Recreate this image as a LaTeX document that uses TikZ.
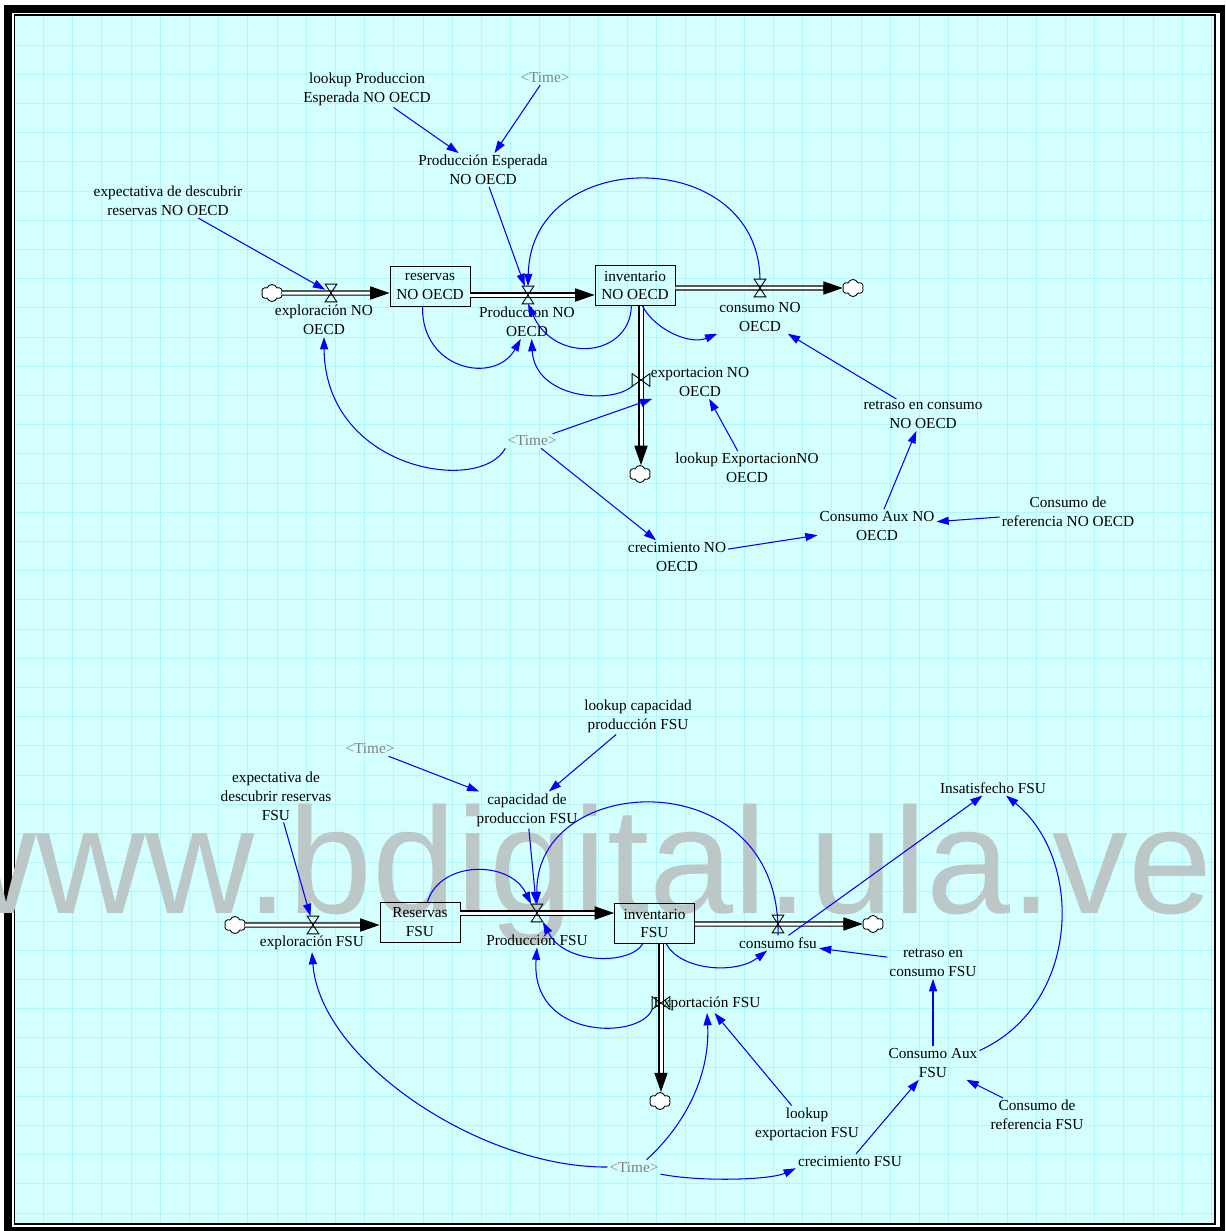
\documentclass[tikz,border=0pt]{standalone}
\usepackage{fontspec}
\setmainfont{Liberation Serif}
\newfontfamily\wmfont{Liberation Sans}
\usetikzlibrary{arrows.meta,shapes.symbols}
\definecolor{bgcyan}{RGB}{212,255,255}
\definecolor{gridcyan}{RGB}{176,246,250}
\definecolor{timegray}{RGB}{128,128,128}
\definecolor{wmgray}{RGB}{188,199,199}

\begin{document}
\begin{tikzpicture}[x=0.02cm, y=-0.02cm,
  every node/.style={font=\fontsize{8.7}{10.8}\selectfont},
  var/.style={align=center, inner sep=1pt},
  tvar/.style={var, text=timegray},
  stock/.style={draw, line width=0.5pt, align=center, inner sep=1pt, minimum width=1.6cm, minimum height=0.8cm},
  valve/.style={inner sep=0pt, minimum width=0.22cm, minimum height=0.34cm},
  valvev/.style={inner sep=0pt, minimum width=0.34cm, minimum height=0.24cm},
  sink/.style={cloud, cloud puffs=6, cloud puff arc=140, aspect=1.2, draw, fill=white, line width=0.5pt, inner sep=0pt, minimum width=0.42cm, minimum height=0.34cm},
  pipe/.style={draw=black, line width=0.6pt, double=white, double distance=1.7pt, shorten >=9pt},
  pipetip/.style={-{Triangle[length=11pt,width=7.5pt]}, line width=0.6pt},
  link/.style={blue, line width=0.6pt, -{Triangle[length=7pt,width=4.6pt]}}]

% sheet
\useasboundingbox (0,0) rectangle (1225,1231);
\fill[white] (0,0) rectangle (1225,1231);
\fill[black] (4,5) rectangle (1225,1231);
\fill[white] (12,13) rectangle (1219.5,1226.5);
\fill[bgcyan] (14.5,15) rectangle (1215,1224);
\foreach \i in {0,...,40} {
  \draw[gridcyan, line width=0.5pt] ({43.5+29.2*\i},16) -- ({43.5+29.2*\i},1223);
  \draw[gridcyan, line width=0.5pt] (16,{45+29.2*\i}) -- (1214,{45+29.2*\i});
}
\draw[line width=1.1pt] (14.5,15) rectangle (1215,1224);
\node[anchor=base west, inner sep=0pt, text=wmgray, font=\wmfont\fontsize{86}{86}\selectfont] (wmark) at (-73,913) {www.bdigital.ula.ve};

% NO OECD
\node[var] (expectNO) at (168,201) {expectativa de descubrir\\reservas NO OECD};
\node[var] (lkProdNO) at (367,89) {lookup Produccion\\Esperada NO OECD};
\node[tvar] (timeB) at (545,78) {<Time>};
\node[var] (espNO) at (483,170) {Producción Esperada\\NO OECD};
\node[sink] (cloudA) at (272,293) {};
\node[valve] (vExpNO) at (331,293) {};
\node[var] (expNO) at (324,320) {exploración NO\\OECD};
\node[stock] (resNO) at (430,286) {reservas\\NO OECD};
\node[valve] (vProdNO) at (528,295) {};
\node[var] (prodNO) at (527,322) {Produccion NO\\OECD};
\node[stock] (invNO) at (635,285.5) {inventario\\NO OECD};
\node[valve] (vConsNO) at (760,288) {};
\node[var] (consNO) at (760,317) {consumo NO\\OECD};
\node[sink] (cloudB) at (853,288) {};
\node[valvev] (vExpoNO) at (641,380) {};
\node[var] (expoNO) at (700,382) {exportacion NO\\OECD};
\node[sink] (cloudC) at (640,474) {};
\node[var] (lkExpoNO) at (747,468) {lookup ExportacionNO\\OECD};
\node[tvar] (timeA) at (532,441) {<Time>};
\node[var] (creNO) at (677,557) {crecimiento NO\\OECD};
\node[var] (auxNO) at (877,526) {Consumo Aux NO\\OECD};
\node[var] (refNO) at (1068,512) {Consumo de\\referencia NO OECD};
\node[var] (retNO) at (923,415) {retraso en consumo\\NO OECD};

\coordinate (tA) at (resNO.west |- cloudA);
\coordinate (tB) at (invNO.west |- vProdNO);
\coordinate (tC) at (cloudB.west);
\coordinate (tD) at (vExpoNO |- cloudC.north);
\draw[pipe] (cloudA.east) -- (tA);
\draw[pipetip] ([xshift=-11pt]tA) -- (tA);
\draw[pipe] (resNO.east |- vProdNO) -- (tB);
\draw[pipetip] ([xshift=-11pt]tB) -- (tB);
\draw[pipe] (invNO.east |- vConsNO) -- (tC);
\draw[pipetip] ([xshift=-11pt]tC) -- (tC);
\draw[pipe] (vExpoNO |- invNO.south) -- (tD);
\draw[pipetip] ([yshift=11pt]tD) -- (tD);

\draw[link] (expectNO) -- (vExpNO);
\draw[link] (lkProdNO) -- (espNO);
\draw[link] (timeB) -- (espNO);
\draw[link] (espNO) -- (vProdNO);
\draw[link] (timeA) -- (expoNO);
\draw[link] (timeA) -- (creNO);
\draw[link] (creNO) -- (auxNO);
\draw[link] (refNO) -- (auxNO);
\draw[link] (auxNO) -- (retNO);
\draw[link] (retNO) -- (consNO);
\draw[link] (lkExpoNO) -- (expoNO);
\draw[link] (vConsNO.north) .. controls (758,145) and (531,145) .. (vProdNO.north);
\draw[link] (resNO.250) .. controls (421,370) and (495,385) .. (prodNO.250);
\draw[link] (invNO.260) .. controls (630,357) and (555,365) .. (vProdNO.south);
\draw[link] (vExpoNO.south west) .. controls (610,405) and (535,398) .. (prodNO.285);
\draw[link] (timeA.south west) .. controls (480,495) and (325,470) .. (expNO.south);
\draw[link] (invNO.290) .. controls (655,330) and (690,345) .. (consNO.south west);

% FSU
\node[var] (lkCapF) at (638,716) {lookup capacidad\\producción FSU};
\node[tvar] (timeD) at (370,749) {<Time>};
\node[var] (expectF) at (276,796) {expectativa de\\descubrir reservas\\FSU};
\node[var] (capF) at (527,810) {capacidad de\\produccion FSU};
\node[var] (insF) at (993,788) {Insatisfecho FSU};
\node[sink] (cloudD) at (235,925) {};
\node[valve] (vExpF) at (313,925) {};
\node[var] (expF) at (312,943) {exploración FSU};
\node[stock] (resF) at (420,922.5) {Reservas\\FSU};
\node[valve] (vProdF) at (537,913) {};
\node[var] (prodF) at (537,940) {Producción FSU};
\node[stock] (invF) at (654.5,923.5) {inventario\\FSU};
\node[valve] (vConsF) at (778,924) {};
\node[var] (consF) at (778,943) {consumo fsu};
\node[sink] (cloudE) at (873,924) {};
\node[valvev] (vExpoF) at (661,1003) {};
\node[var] (expoF) at (707,1004) {Exportación FSU};
\node[sink] (cloudF) at (660,1101) {};
\node[var] (retF) at (933,963) {retraso en\\consumo FSU};
\node[var] (auxF) at (933,1063) {Consumo Aux\\FSU};
\node[var] (refF) at (1037,1115) {Consumo de\\referencia FSU};
\node[var] (lkExpoF) at (807,1124) {lookup\\exportacion FSU};
\node[var] (creF) at (850,1161) {crecimiento FSU};
\node[tvar] (timeC) at (634,1167) {<Time>};

\coordinate (tE) at (resF.west |- cloudD);
\coordinate (tF) at (invF.west |- vProdF);
\coordinate (tG) at (cloudE.west);
\coordinate (tH) at (vExpoF |- cloudF.north);
\draw[pipe] (cloudD.east) -- (tE);
\draw[pipetip] ([xshift=-11pt]tE) -- (tE);
\draw[pipe] (resF.east |- vProdF) -- (tF);
\draw[pipetip] ([xshift=-11pt]tF) -- (tF);
\draw[pipe] (invF.east |- vConsF) -- (tG);
\draw[pipetip] ([xshift=-11pt]tG) -- (tG);
\draw[pipe] (vExpoF |- invF.south) -- (tH);
\draw[pipetip] ([yshift=11pt]tH) -- (tH);

\draw[link] (timeD) -- (capF);
\draw[link] (lkCapF) -- (capF);
\draw[link] (expectF) -- (vExpF);
\draw[link] (capF) -- (vProdF);
\draw[link] (consF) -- (insF);
\draw[link] (retF) -- (consF);
\draw[link] (auxF) -- (retF);
\draw[link] (refF) -- (auxF);
\draw[link] (creF) -- (auxF);
\draw[link] (lkExpoF) -- (expoF);
\draw[link] (consF.north) .. controls (782,760) and (535,770) .. (vProdF.north);
\draw[link] (resF.70) .. controls (440,860) and (510,860) .. (vProdF.north west);
\draw[link] (invF.240) .. controls (630,965) and (565,965) .. (vProdF.south east);
\draw[link] (vExpoF.south west) .. controls (640,1040) and (530,1040) .. (prodF.south);
\draw[link] (invF.300) .. controls (680,970) and (735,975) .. (consF.215);
\draw[link] (timeC.west) .. controls (480,1168) and (320,1060) .. (expF.south);
\draw[link] (timeC.30) .. controls (690,1120) and (710,1070) .. (expoF.south);
\draw[link] (timeC.-15) .. controls (700,1182) and (770,1180) .. (creF.south west);
\draw[link] (auxF.15) .. controls (1080,1005) and (1085,860) .. (insF.-30);

% valves
\foreach \v in {vExpNO,vProdNO,vConsNO,vExpF,vProdF,vConsF}
  \draw[line width=0.5pt] (\v.north west) -- (\v.north east) -- (\v.south west) -- (\v.south east) -- cycle;
\foreach \v in {vExpoNO,vExpoF}
  \draw[line width=0.5pt] (\v.north west) -- (\v.south west) -- (\v.north east) -- (\v.south east) -- cycle;
\end{tikzpicture}
\end{document}
